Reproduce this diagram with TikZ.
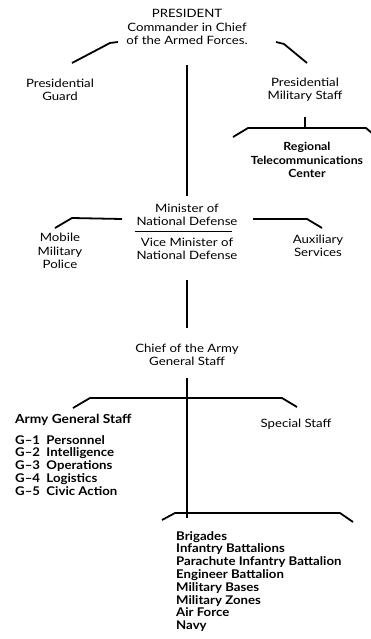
\documentclass[tikz,border=0pt]{standalone}
\usepackage{fontspec}
\setmainfont{Lato}[FakeStretch=1.15,BoldFeatures={FakeStretch=1.1}]
\begin{document}
\begin{tikzpicture}[x=1pt,y=-1pt,
  lbl/.style={align=center,inner sep=0pt,font=\fontsize{11.5}{13.3}\selectfont},
  blbl/.style={align=center,inner sep=0pt,font=\fontsize{11.2}{13.3}\selectfont\bfseries},
  lst/.style={align=left,inner sep=0pt,font=\fontsize{12}{12.8}\selectfont\bfseries},
  conn/.style={line width=1.8pt,line join=round},
  thin/.style={line width=0.9pt}]
\useasboundingbox[fill=white] (0,0) rectangle (371,639);
% nodes
\node[lbl] (pres) at (187,27) {PRESIDENT\\Commander in Chief\\of the Armed Forces.};
\node[lbl] (guard) at (60,90) {Presidential\\Guard};
\node[lbl] (pms) at (305,90) {Presidential\\Military Staff};
\node[blbl] (rtc) at (307,160) {Regional\\Telecommunications\\Center};
\node[lbl] (mnd) at (187,215) {Minister of\\National Defense};
\node[lbl] (vmnd) at (187,249) {Vice Minister of\\National Defense};
\node[lbl] (mmp) at (60,251) {Mobile\\Military\\Police};
\node[lbl] (aux) at (318,246) {Auxiliary\\Services};
\node[lbl] (chief) at (187,355) {Chief of the Army\\General Staff};
\node[blbl,font=\fontsize{12.5}{13.3}\selectfont\bfseries,anchor=west] (ags) at (15,420) {Army General Staff};
\node[lst,anchor=north west] (glist) at (15,435) {G--1\ \ Personnel\\G--2\ \ Intelligence\\G--3\ \ Operations\\G--4\ \ Logistics\\G--5\ \ Civic Action};
\node[lbl] (special) at (296,424) {Special Staff};
\node[lst,anchor=north west] (units) at (176,531) {Brigades\\Infantry Battalions\\Parachute Infantry Battalion\\Engineer Battalion\\Military Bases\\Military Zones\\Air Force\\Navy};
% coordinates
\coordinate (pL) at (118,42);
\coordinate (pR) at (276,42);
\coordinate (gT) at (72,63);
\coordinate (sT) at (307,63);
\coordinate (v1t) at (187,65);
\coordinate (v1b) at (187,196);
\coordinate (pmsB) at (305,117);
\coordinate (b1) at (305,128);
\coordinate (mL) at (122,219);
\coordinate (mR) at (253,219);
\coordinate (v2t) at (187,280);
\coordinate (v2b) at (187,328);
\coordinate (v3t) at (187,378);
\coordinate (v3b) at (187,518);
% connectors
\draw[conn] (pL) -- (110,43) -- (gT);
\draw[conn] (pR) -- (284,44) -- (sT);
\draw[conn] (v1t) -- (v1b);
\draw[conn] (pmsB) -- (b1);
\draw[conn] (233,137) -- (248,128) -- (b1) -- (366,128) -- (373,134);
\draw[conn] (55,228) -- (72,218) -- (mL);
\draw[conn] (mR) -- (307,219) -- (322,228);
\draw[thin] (135,231) -- (232,231);
\draw[conn] (v2t) -- (v2b);
\draw[conn] (v3t) -- (v3b);
\draw[conn] (73,408) -- (90,398) -- (282,398) -- (297,407);
\draw[conn] (162,520) -- (175,513) -- (340,513) -- (353,522);
\end{tikzpicture}
\end{document}
